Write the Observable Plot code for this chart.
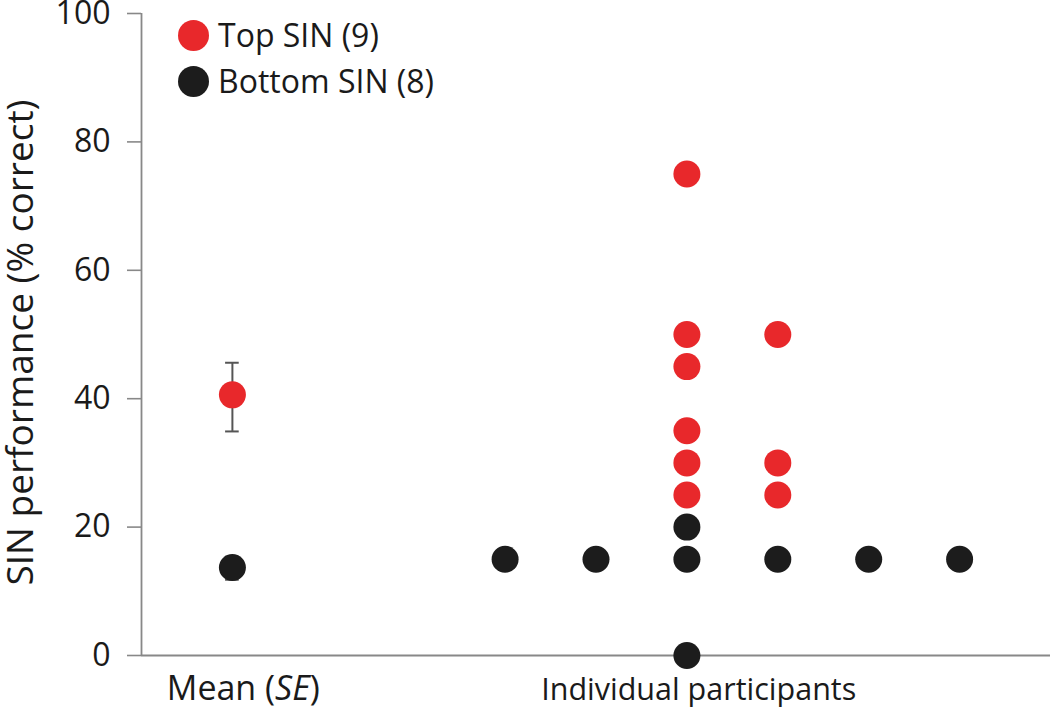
<!DOCTYPE html>
<html>
<head>
<meta charset="utf-8">
<script src="https://cdn.jsdelivr.net/npm/d3@7"></script>
<script src="https://cdn.jsdelivr.net/npm/@observablehq/plot@0.6"></script>
<style>
  html, body { margin: 0; padding: 0; background: #fff; }
  #wrap { position: relative; width: 1050px; height: 715px; font-family: "Open Sans", sans-serif; }
  .leg { position: absolute; left: 178px; display: flex; align-items: center; font-size: 32px; color: #1a1a1a; line-height: 1; height: 34px; }
  .leg .sw { width: 31px; height: 31px; border-radius: 50%; margin-right: 9px; flex: none; }
</style>
</head>
<body>
<div id="wrap">
  <div class="leg" style="top:18px"><span class="sw" style="background:#e8282b"></span>Top SIN (9)</div>
  <div class="leg" style="top:64px"><span class="sw" style="background:#1c1c1c"></span>Bottom SIN (8)</div>
</div>
<script>
// Data
const groups = ["Top SIN (9)", "Bottom SIN (8)"];
const colors = ["#e8282b", "#1c1c1c"];
const meanValues = [40.6, 13.7];
const seLow = [34.9, 11.8];
const seHigh = [45.6, 15.4];
const topParticipantX = [5, 5, 5, 5, 5, 5, 6, 6, 6];
const topParticipantY = [75, 50, 45, 35, 30, 25, 50, 30, 25];
const bottomParticipantX = [3, 4, 5, 5, 5, 6, 7, 8];
const bottomParticipantY = [15, 15, 20, 15, 0, 15, 15, 15];
const yTicks = [0, 20, 40, 60, 80, 100];
const categoryLabels = ["Mean (SE)", "Individual participants"];
const categoryX = [0.12, 5.13];
const categorySize = [34, 30.5];

const means = groups.map((g, i) => ({group: g, x: 0, y: meanValues[i], lo: seLow[i], hi: seHigh[i]}));
const topPts = topParticipantX.map((x, i) => ({group: groups[0], x, y: topParticipantY[i]}));
const botPts = bottomParticipantX.map((x, i) => ({group: groups[1], x, y: bottomParticipantY[i]}));
const cats = categoryLabels.map((l, i) => ({label: l, x: categoryX[i], size: categorySize[i]}));
const capHalf = 0.075;

const chart = Plot.plot({
  width: 1050,
  height: 715,
  marginLeft: 141,
  marginRight: 0,
  marginTop: 13,
  marginBottom: 60,
  style: {fontFamily: "'Open Sans', sans-serif", fontSize: "32px", color: "#1a1a1a", background: "#fff", overflow: "visible"},
  x: {domain: [-1, 9], axis: null},
  y: {domain: [0, 100]},
  color: {domain: groups, range: colors},
  marks: [
    Plot.axisY({ticks: yTicks, tickSize: 14, tickPadding: 17, stroke: "#888", strokeWidth: 1.6, fontSize: 32, fill: "#1a1a1a", label: null}),
    Plot.text(["SIN performance (% correct)"], {frameAnchor: "left", textAnchor: "middle", rotate: -90, dx: -120, dy: 8, fontSize: 37, fill: "#1a1a1a"}),
    Plot.ruleX([-1], {y1: 0, y2: 100, stroke: "#888", strokeWidth: 1.8}),
    Plot.ruleY([0], {stroke: "#888", strokeWidth: 1.8}),
    Plot.ruleX(means, {x: "x", y1: "lo", y2: "hi", stroke: "#555", strokeWidth: 2}),
    Plot.ruleY(means, {y: "lo", x1: d => d.x - capHalf, x2: d => d.x + capHalf, stroke: "#555", strokeWidth: 2}),
    Plot.ruleY(means, {y: "hi", x1: d => d.x - capHalf, x2: d => d.x + capHalf, stroke: "#555", strokeWidth: 2}),
    Plot.dot(means, {x: "x", y: "y", r: 13.5, fill: "group"}),
    Plot.dot(botPts, {x: "x", y: "y", r: 13.5, fill: "group"}),
    Plot.dot(topPts, {x: "x", y: "y", r: 13.5, fill: "group"}),
    Plot.text(cats, {x: "x", frameAnchor: "bottom", dy: 44, text: "label", fontSize: "size", fill: "#1a1a1a"})
  ]
});
document.getElementById("wrap").prepend(chart);
chart.style.position = "absolute";
chart.style.left = "0";
chart.style.top = "0";

// italic SE in first category label
d3.select(chart).selectAll("text").each(function() {
  if (this.textContent === "Mean (SE)") {
    this.innerHTML = 'Mean (<tspan font-style="italic">SE</tspan>)';
  }
});
</script>
</body>
</html>
